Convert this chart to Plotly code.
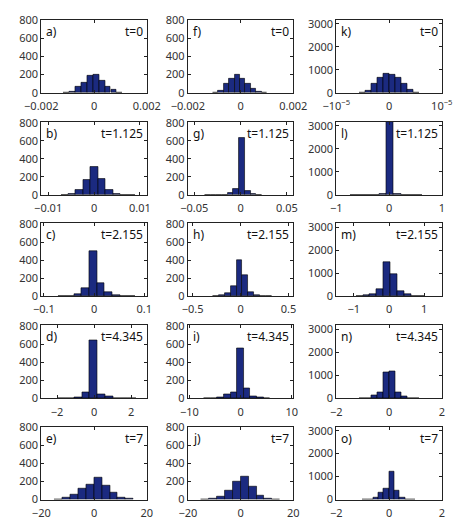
import plotly.graph_objects as go

# ---------------- data (bin centers, bin widths, counts) ----------------
labels = ["a)", "b)", "c)", "d)", "e)",
          "f)", "g)", "h)", "i)", "j)",
          "k)", "l)", "m)", "n)", "o)"]
times = ["t=0", "t=1.125", "t=2.155", "t=4.345", "t=7"]

a_x = [-0.00104, -0.00082, -0.00059, -0.00037, -0.00015, 0.00008, 0.00030, 0.00052, 0.00075, 0.00097]
a_y = [2, 7, 67, 112, 190, 200, 137, 67, 32, 5]
b_x = [-0.00643, -0.00481, -0.00319, -0.00157, 0.00005, 0.00166, 0.00328, 0.0049, 0.00652, 0.00814]
b_y = [1, 12, 52, 172, 312, 179, 60, 14, 3, 2]
c_x = [-0.0629, -0.0476, -0.0324, -0.0171, -0.0018, 0.0135, 0.0288, 0.0441, 0.0594, 0.0747]
c_y = [2, 3, 21, 88, 500, 144, 39, 8, 4, 2]
d_x = [-1.70, -1.28, -0.86, -0.44, -0.02, 0.40, 0.82, 1.24, 1.66, 2.08]
d_y = [1, 3, 8, 70, 640, 50, 20, 5, 2, 1]
e_x = [-13.5, -10.5, -7.5, -4.5, -1.5, 1.5, 4.5, 7.5, 10.5, 13.5]
e_y = [5, 20, 60, 120, 170, 240, 160, 80, 25, 8]

f_x = [-0.000956, -0.00075, -0.000544, -0.000338, -0.000132, 0.000074, 0.00028, 0.000486, 0.000692, 0.000898]
f_y = [2, 20, 105, 160, 200, 160, 100, 45, 15, 3]
g_x = [-0.0357, -0.0295, -0.0233, -0.0172, -0.0110, -0.0048, 0.0013, 0.0075, 0.0137, 0.0199]
g_y = [1, 1, 2, 5, 25, 67, 638, 49, 15, 5]
h_x = [-0.260, -0.198, -0.137, -0.075, -0.013, 0.049, 0.111, 0.172, 0.234, 0.296]
h_y = [2, 8, 32, 112, 400, 228, 40, 10, 5, 3]
i_x = [-6.55, -5.25, -3.95, -2.65, -1.35, -0.05, 1.25, 2.55, 3.85, 5.15]
i_y = [2, 4, 10, 42, 70, 554, 116, 25, 12, 3]
j_x = [-13.5, -10.5, -7.5, -4.5, -1.5, 1.5, 4.5, 7.5, 10.5, 13.5]
j_y = [3, 10, 30, 100, 200, 260, 140, 50, 15, 5]

k_x = [-5.09e-6, -3.96e-6, -2.83e-6, -1.70e-6, -0.57e-6, 0.57e-6, 1.70e-6, 2.83e-6, 3.96e-6, 5.09e-6]
k_y = [10, 100, 400, 640, 830, 800, 660, 400, 140, 20]
l_x = [-0.662, -0.525, -0.389, -0.252, -0.116, 0.021, 0.157, 0.294, 0.430, 0.567]
l_y = [1, 1, 2, 5, 30, 3170, 25, 3, 1, 1]
m_x = [-0.842, -0.647, -0.452, -0.257, -0.062, 0.134, 0.329, 0.524, 0.719, 0.914]
m_y = [5, 30, 100, 300, 1500, 970, 240, 70, 20, 8]
n_x = [-1.017, -0.791, -0.565, -0.339, -0.113, 0.113, 0.339, 0.565, 0.791, 1.017]
n_y = [5, 20, 110, 270, 1130, 1155, 280, 85, 20, 5]
o_x = [-0.9, -0.7, -0.5, -0.3, -0.1, 0.1, 0.3, 0.5, 0.7, 0.9]
o_y = [5, 20, 80, 300, 500, 1200, 400, 100, 20, 5]

bin_w = [0.000223, 0.001618, 0.0153, 0.42, 3.0,
         0.000206, 0.00618, 0.0618, 1.3, 3.0,
         1.131e-6, 0.1365, 0.195, 0.226, 0.2]

xs = [a_x, b_x, c_x, d_x, e_x, f_x, g_x, h_x, i_x, j_x, k_x, l_x, m_x, n_x, o_x]
ys = [a_y, b_y, c_y, d_y, e_y, f_y, g_y, h_y, i_y, j_y, k_y, l_y, m_y, n_y, o_y]

x_ranges = [0.002, 0.0115, 0.105, 2.85, 20,
            0.002, 0.057, 0.55, 10.3, 20,
            1e-5, 1.0, 1.5, 2.0, 2.0]
x_ticks = [[-0.002, 0, 0.002], [-0.01, 0, 0.01], [-0.1, 0, 0.1], [-2, 0, 2], [-20, 0, 20],
           [-0.002, 0, 0.002], [-0.05, 0, 0.05], [-0.5, 0, 0.5], [-10, 0, 10], [-20, 0, 20],
           [-1e-5, 0, 1e-5], [-1, 0, 1], [-1, 0, 1], [-2, 0, 2], [-2, 0, 2]]
x_ticktext = [["\u22120.002", "0", "0.002"], ["\u22120.01", "0", "0.01"], ["\u22120.1", "0", "0.1"],
              ["\u22122", "0", "2"], ["\u221220", "0", "20"],
              ["\u22120.002", "0", "0.002"], ["\u22120.05", "0", "0.05"], ["\u22120.5", "0", "0.5"],
              ["\u221210", "0", "10"], ["\u221220", "0", "20"],
              ["\u221210<sup>\u22125</sup>", "0", "10<sup>\u22125</sup>"], ["\u22121", "0", "1"],
              ["\u22121", "0", "1"], ["\u22122", "0", "2"], ["\u22122", "0", "2"]]
y_ticks_small = [0, 200, 400, 600, 800]
y_ticks_big = [0, 1000, 2000, 3000]

# ---------------- layout geometry (pixels) ----------------
W, H = 467, 527
col_left = [26, 183, 342]
col_w = 113
row_top = [13, 118, 222, 327, 431]
row_h = 75

BAR = "#1b2a80"
FONT = "Noto Sans"

fig = go.Figure()
layout = dict(
    width=W, height=H, margin=dict(l=0, r=0, t=0, b=0),
    paper_bgcolor="white", plot_bgcolor="white", showlegend=False,
    font=dict(family=FONT, size=11, color="#333333"),
    bargap=0,
)
annotations = []

for idx in range(15):
    col = idx // 5
    row = idx % 5
    n = idx + 1
    xa = "x" if n == 1 else f"x{n}"
    ya = "y" if n == 1 else f"y{n}"
    fig.add_trace(go.Bar(
        x=xs[idx], y=ys[idx], width=bin_w[idx],
        marker=dict(color=BAR, line=dict(color="#000000", width=0.6)),
        xaxis=xa, yaxis=ya, hoverinfo="skip",
    ))
    x0 = col_left[col] / W
    x1 = (col_left[col] + col_w) / W
    y1 = 1 - row_top[row] / H
    y0 = 1 - (row_top[row] + row_h) / H
    xr = x_ranges[idx]
    big = col == 2
    layout[f"xaxis{'' if n == 1 else n}"] = dict(
        domain=[x0, x1], anchor=ya, range=[-xr, xr],
        tickmode="array", tickvals=x_ticks[idx], ticktext=x_ticktext[idx],
        ticks="inside", ticklen=3, tickcolor="#222", showline=True, linecolor="#222",
        linewidth=1, mirror="ticks", showgrid=False, zeroline=False,
        tickfont=dict(size=11, color="#333"), ticklabelstandoff=3,
    )
    layout[f"yaxis{'' if n == 1 else n}"] = dict(
        domain=[y0, y1], anchor=xa,
        range=[0, 3180 if big else 810],
        tickmode="array", tickvals=y_ticks_big if big else y_ticks_small,
        ticks="inside", ticklen=3, tickcolor="#222", showline=True, linecolor="#222",
        linewidth=1, mirror="ticks", showgrid=False, zeroline=False,
        tickfont=dict(size=11, color="#333"),
    )
    annotations.append(dict(
        x=(col_left[col] + 3) / W, y=1 - (row_top[row] + 1) / H,
        xref="paper", yref="paper", xanchor="left", yanchor="top",
        text=labels[idx], showarrow=False, font=dict(size=12, color="#111", family=FONT),
    ))
    annotations.append(dict(
        x=(col_left[col] + col_w - 2) / W, y=1 - (row_top[row] + 1) / H,
        xref="paper", yref="paper", xanchor="right", yanchor="top",
        text=times[row], showarrow=False, font=dict(size=12, color="#111", family=FONT),
    ))

layout["annotations"] = annotations
fig.update_layout(**layout)
fig.write_html("out.html")
